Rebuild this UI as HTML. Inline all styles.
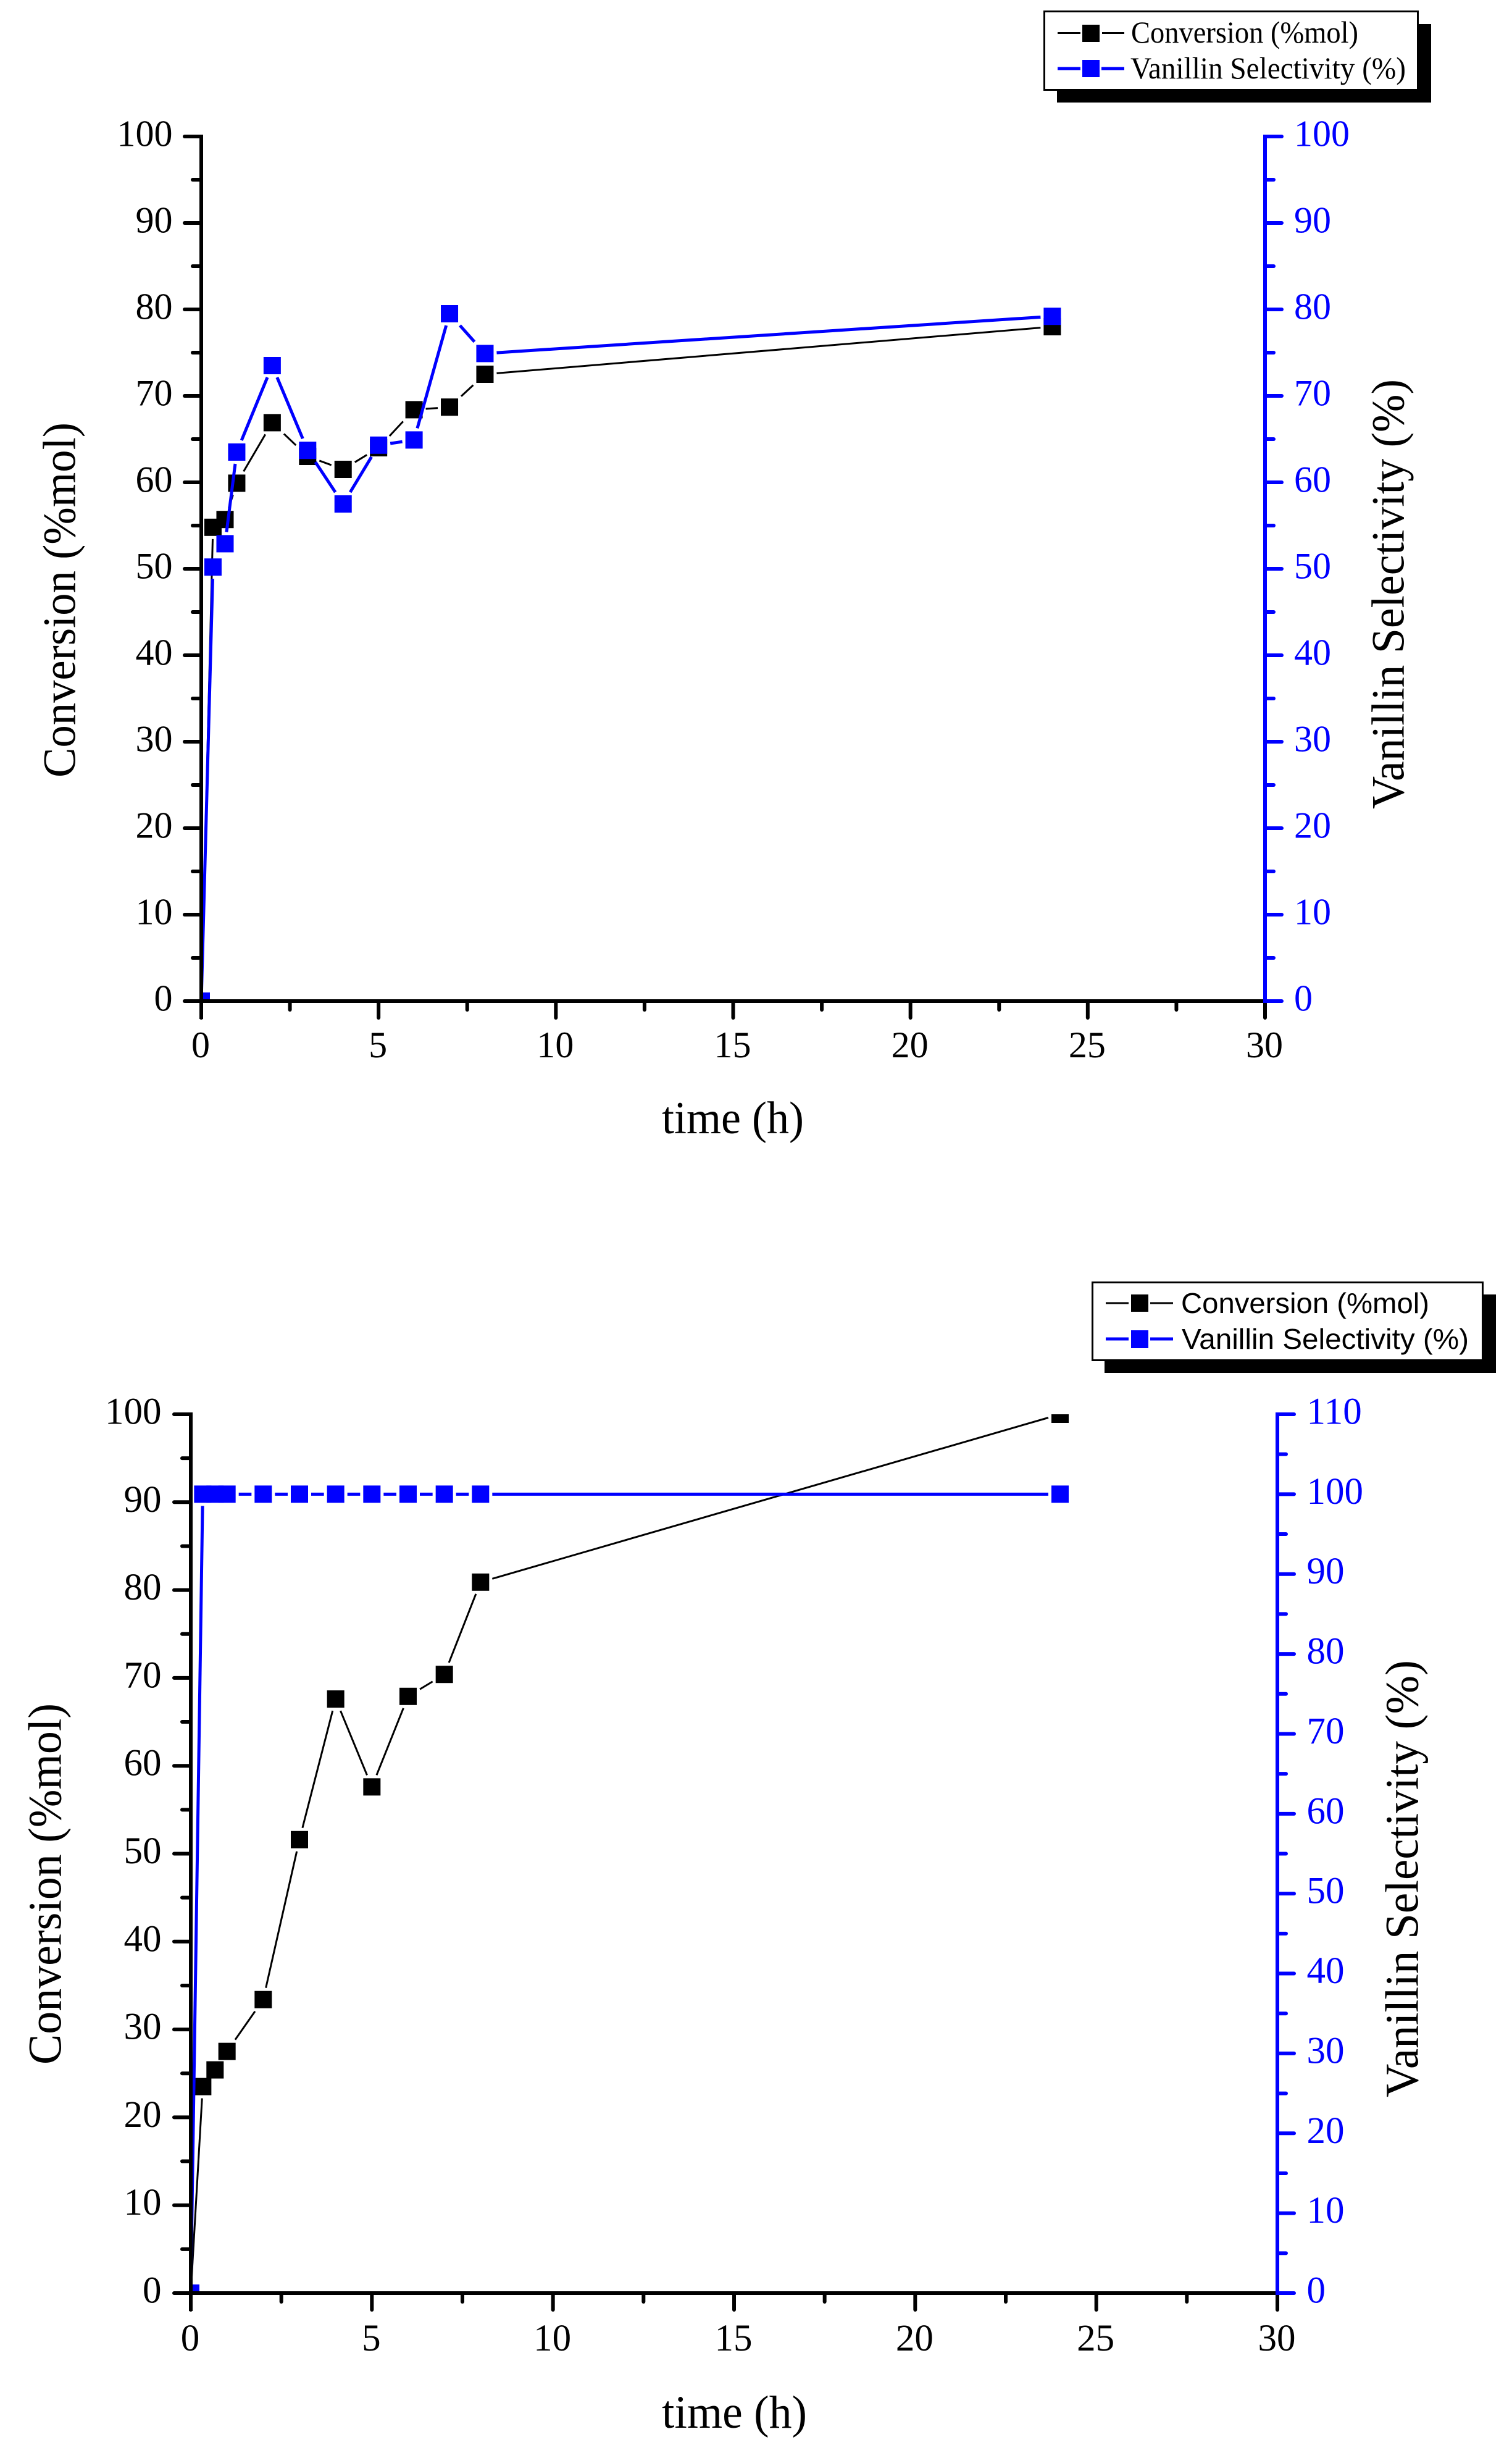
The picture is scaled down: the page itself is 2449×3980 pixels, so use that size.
<!DOCTYPE html>
<html lang="en">
<head>
<meta charset="utf-8">
<title>Conversion and Vanillin Selectivity vs time</title>
<style>
html,body{margin:0;padding:0;background:#fff;}
svg{display:block;}
text{font-family:"Liberation Serif",serif;}
.sans{font-family:"Liberation Sans",sans-serif;}
</style>
</head>
<body>
<svg id="figure" xmlns="http://www.w3.org/2000/svg" width="2449" height="3980" viewBox="0 0 2449 3980">
  <rect x="0" y="0" width="2449" height="3980" fill="#ffffff"/>

  <g id="chart-top"></g>
  <g id="chart-bottom"></g>

  <!-- Top chart titles -->
  <text x="1072" y="1835" font-size="74" textLength="230" lengthAdjust="spacingAndGlyphs">time (h)</text>
  <text transform="translate(121.5,1259) rotate(-90)" font-size="75" textLength="575" lengthAdjust="spacingAndGlyphs">Conversion (%mol)</text>
  <text transform="translate(2273.5,1310) rotate(-90)" font-size="75" textLength="696" lengthAdjust="spacingAndGlyphs">Vanillin Selectivity (%)</text>

  <!-- Top legend -->
  <g>
    <rect x="1712" y="39" width="606" height="127" fill="#000"/>
    <rect x="1691.5" y="18.5" width="605" height="127" fill="#fff" stroke="#000" stroke-width="3"/>
    <g>
      <line x1="1713" y1="53.5" x2="1750" y2="53.5" stroke="#000" stroke-width="3"/>
      <line x1="1785" y1="53.5" x2="1821" y2="53.5" stroke="#000" stroke-width="3"/>
      <rect x="1753" y="40" width="28" height="28" fill="#000"/>
      <text x="1832" y="69" font-size="50" textLength="368" lengthAdjust="spacingAndGlyphs">Conversion (%mol)</text>
    </g>
    <g>
      <line x1="1713" y1="111" x2="1750" y2="111" stroke="#0000ff" stroke-width="5"/>
      <line x1="1784" y1="111" x2="1821" y2="111" stroke="#0000ff" stroke-width="5"/>
      <rect x="1753" y="97" width="28" height="28" fill="#0000ff"/>
      <text x="1831" y="127" font-size="50" textLength="446" lengthAdjust="spacingAndGlyphs">Vanillin Selectivity (%)</text>
    </g>
  </g>

  <!-- Bottom chart titles -->
  <text x="1072" y="3931" font-size="75" textLength="235" lengthAdjust="spacingAndGlyphs">time (h)</text>
  <text transform="translate(98.5,3343) rotate(-90)" font-size="76" textLength="585" lengthAdjust="spacingAndGlyphs">Conversion (%mol)</text>
  <text transform="translate(2296.5,3396) rotate(-90)" font-size="76" textLength="708" lengthAdjust="spacingAndGlyphs">Vanillin Selectivity (%)</text>

  <!-- Bottom legend -->
  <g>
    <rect x="1789" y="2096" width="634" height="127" fill="#000"/>
    <rect x="1769.5" y="2076.5" width="632" height="126" fill="#fff" stroke="#000" stroke-width="3"/>
    <g>
      <line x1="1791" y1="2110" x2="1828" y2="2110" stroke="#000" stroke-width="3"/>
      <line x1="1863" y1="2110" x2="1900" y2="2110" stroke="#000" stroke-width="3"/>
      <rect x="1832" y="2096" width="28" height="28" fill="#000"/>
      <text class="sans" x="1913" y="2126" font-size="46" textLength="402" lengthAdjust="spacingAndGlyphs">Conversion (%mol)</text>
    </g>
    <g>
      <line x1="1791" y1="2168" x2="1828" y2="2168" stroke="#0000ff" stroke-width="5"/>
      <line x1="1863" y1="2168" x2="1900" y2="2168" stroke="#0000ff" stroke-width="5"/>
      <rect x="1832" y="2154" width="28" height="29" fill="#0000ff"/>
      <text class="sans" x="1914" y="2184" font-size="46" textLength="465" lengthAdjust="spacingAndGlyphs">Vanillin Selectivity (%)</text>
    </g>
  </g>
</svg>

<script>
// ---- Shared x axis ----
const xTickLabels = [0, 5, 10, 15, 20, 25, 30];

// ---- Top chart data ----
const topTimes = [0, 0.33, 0.67, 1, 2, 3, 4, 5, 6, 7, 8, 24];
const topConversion = [0, 54.8, 55.7, 59.9, 66.9, 63.0, 61.5, 64.0, 68.4, 68.7, 72.5, 78.0];
const topSelectivity = [0, 50.2, 52.9, 63.5, 73.5, 63.7, 57.5, 64.3, 64.9, 79.5, 74.9, 79.2];
const topLeftTicks = [0, 10, 20, 30, 40, 50, 60, 70, 80, 90, 100];
const topRightTicks = [0, 10, 20, 30, 40, 50, 60, 70, 80, 90, 100];

// ---- Bottom chart data ----
const bottomTimes = [0, 0.33, 0.67, 1, 2, 3, 4, 5, 6, 7, 8, 24];
const bottomConversion = [0, 23.5, 25.4, 27.5, 33.4, 51.6, 67.6, 57.6, 67.9, 70.4, 80.9, 100];
const bottomSelectivity = [0, 100, 100, 100, 100, 100, 100, 100, 100, 100, 100, 100];
const bottomLeftTicks = [0, 10, 20, 30, 40, 50, 60, 70, 80, 90, 100];
const bottomRightTicks = [0, 10, 20, 30, 40, 50, 60, 70, 80, 90, 100, 110];

const SVGNS = 'http://www.w3.org/2000/svg';
const BLACK = '#000000';
const BLUE = '#0000ff';
const MARKER = 28;
const GAP_HALF = 19;

function mkLine(parent, x1, y1, x2, y2, color, width, cap) {
  const el = document.createElementNS(SVGNS, 'line');
  el.setAttribute('x1', x1);
  el.setAttribute('y1', y1);
  el.setAttribute('x2', x2);
  el.setAttribute('y2', y2);
  el.setAttribute('stroke', color);
  el.setAttribute('stroke-width', width);
  el.setAttribute('stroke-linecap', cap || 'butt');
  parent.appendChild(el);
  return el;
}

function mkText(parent, x, y, str, color, size, anchor) {
  const el = document.createElementNS(SVGNS, 'text');
  el.setAttribute('x', x);
  el.setAttribute('y', y);
  el.setAttribute('fill', color);
  el.setAttribute('font-size', size);
  el.setAttribute('text-anchor', anchor);
  el.textContent = String(str);
  parent.appendChild(el);
  return el;
}

function mkGroup(parent) {
  const el = document.createElementNS(SVGNS, 'g');
  parent.appendChild(el);
  return el;
}

function drawSeries(layer, times, values, sx, sy, color, width, prefix) {
  const pts = times.map(function (t, i) { return [sx(t), sy(values[i])]; });
  for (let i = 0; i < pts.length - 1; i++) {
    const a = pts[i], b = pts[i + 1];
    const dx = b[0] - a[0], dy = b[1] - a[1];
    const f = GAP_HALF / Math.max(Math.abs(dx), Math.abs(dy));
    if (f * 2 >= 1) continue;
    const seg = mkLine(layer, a[0] + dx * f, a[1] + dy * f, b[0] - dx * f, b[1] - dy * f, color, width);
    
    
  }
  pts.forEach(function (p) {
    const m = document.createElementNS(SVGNS, 'rect');
    m.setAttribute('x', p[0] - MARKER / 2);
    m.setAttribute('y', p[1] - MARKER / 2);
    m.setAttribute('width', MARKER);
    m.setAttribute('height', MARKER);
    m.setAttribute('fill', color);
    
    
    layer.appendChild(m);
  });
}

function drawChart(root, c) {
  const sx = function (v) { return c.left + (v / c.xMax) * (c.right - c.left); };
  const syL = function (v) { return c.bottom - (v / c.leftMax) * (c.bottom - c.top); };
  const syR = function (v) { return c.bottom - (v / c.rightMax) * (c.bottom - c.top); };

  const defs = document.createElementNS(SVGNS, 'defs');
  const clip = document.createElementNS(SVGNS, 'clipPath');
  clip.setAttribute('id', c.key + '-clip');
  const cr = document.createElementNS(SVGNS, 'rect');
  cr.setAttribute('x', c.left);
  cr.setAttribute('y', c.top);
  cr.setAttribute('width', c.right - c.left);
  cr.setAttribute('height', c.bottom - c.top);
  clip.appendChild(cr);
  defs.appendChild(clip);
  root.appendChild(defs);

  const plot = mkGroup(root);
  plot.setAttribute('clip-path', 'url(#' + c.key + '-clip)');
  
  

  const convLayer = mkGroup(plot);
  
  
  drawSeries(convLayer, c.times, c.conv, sx, syL, BLACK, 3, c.key + '-conversion');

  const selLayer = mkGroup(plot);
  
  
  drawSeries(selLayer, c.times, c.sel, sx, syR, BLUE, 5, c.key + '-selectivity');

  const SW = 6;
  const MAJ = 30, MIN = 17;

  // left axis
  const leftAxis = mkGroup(root);
  
  
  const leftSpine = mkLine(leftAxis, c.left, c.top - SW / 2, c.left, c.bottom + MAJ - 1, BLACK, SW, 'butt');
  
  
  c.leftTicks.forEach(function (v, i) {
    const y = syL(v);
    const t = mkLine(leftAxis, c.left, y, c.left - MAJ + SW / 2, y, BLACK, SW, 'round');
    
    
    const lab = mkText(leftAxis, c.left - c.leftLabelGap, y + 15.5, v, BLACK, c.tickSize, 'end');
    
    
    if (i < c.leftTicks.length - 1) {
      const my = syL((v + c.leftTicks[i + 1]) / 2);
      const mt = mkLine(leftAxis, c.left, my, c.left - MIN + SW / 2, my, BLACK, SW, 'round');
      
      
    }
  });

  // bottom axis
  const xAxis = mkGroup(root);
  
  
  const xSpine = mkLine(xAxis, c.left, c.bottom, c.right, c.bottom, BLACK, SW, 'butt');
  
  
  xTickLabels.forEach(function (v, i) {
    const x = sx(v);
    const t = mkLine(xAxis, x, c.bottom, x, c.bottom + MAJ - SW / 2, BLACK, SW, 'round');
    
    
    const lab = mkText(xAxis, x - 1, c.bottom + c.xLabelOffset, v, BLACK, c.tickSize, 'middle');
    
    
    if (i < xTickLabels.length - 1) {
      const mx = sx((v + xTickLabels[i + 1]) / 2);
      const mt = mkLine(xAxis, mx, c.bottom, mx, c.bottom + MIN - SW / 2, BLACK, SW, 'round');
      
      
    }
  });

  // right axis
  const rightAxis = mkGroup(root);
  
  
  const rightSpine = mkLine(rightAxis, c.right, c.top - SW / 2, c.right, c.bottom + SW / 2, BLUE, SW, 'butt');
  
  
  c.rightTicks.forEach(function (v, i) {
    const y = syR(v);
    const t = mkLine(rightAxis, c.right, y, c.right + MAJ - SW / 2, y, BLUE, SW, 'round');
    
    
    const lab = mkText(rightAxis, c.right + c.rightLabelGap, y + 15.5, v, BLUE, c.tickSize, 'start');
    
    
    if (i < c.rightTicks.length - 1) {
      const my = syR((v + c.rightTicks[i + 1]) / 2);
      const mt = mkLine(rightAxis, c.right, my, c.right + MIN - SW / 2, my, BLUE, SW, 'round');
      
      
    }
  });
}

drawChart(document.getElementById('chart-top'), {
  key: 'top',
  left: 326, right: 2049, top: 221, bottom: 1621,
  xMax: 30, leftMax: 100, rightMax: 100,
  times: topTimes, conv: topConversion, sel: topSelectivity,
  leftTicks: topLeftTicks, rightTicks: topRightTicks,
  tickSize: 60, leftLabelGap: 46.5, rightLabelGap: 47, xLabelOffset: 91
});

drawChart(document.getElementById('chart-bottom'), {
  key: 'bottom',
  left: 309, right: 2069, top: 2290, bottom: 3713,
  xMax: 30, leftMax: 100, rightMax: 110,
  times: bottomTimes, conv: bottomConversion, sel: bottomSelectivity,
  leftTicks: bottomLeftTicks, rightTicks: bottomRightTicks,
  tickSize: 61, leftLabelGap: 47.5, rightLabelGap: 47.5, xLabelOffset: 93
});
</script>
</body>
</html>
